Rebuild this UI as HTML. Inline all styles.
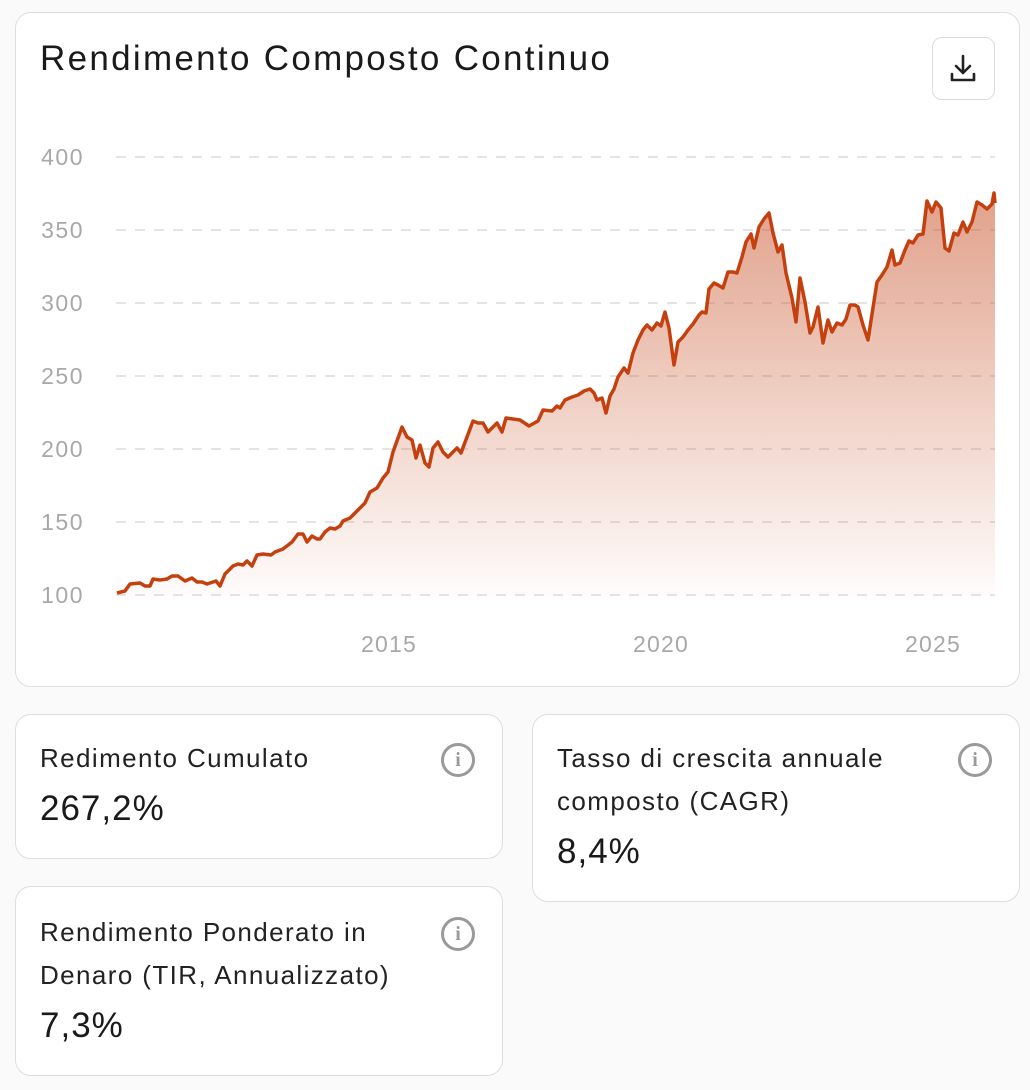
<!DOCTYPE html>
<html><head><meta charset="utf-8"><style>
body{margin:0;width:1030px;height:1090px;background:#fafafa;font-family:"Liberation Sans",sans-serif;position:relative;overflow:hidden}
.card{position:absolute;background:#fff;border:1.5px solid #dedede;border-radius:16px;box-sizing:border-box}
.lbl{position:absolute;left:24px;font-size:26px;color:#222;line-height:43px;letter-spacing:1.4px;white-space:nowrap}
.val{position:absolute;left:24px;font-size:35px;color:#1a1a1a;letter-spacing:1px}
.info{position:absolute;width:28px;height:28px;border:3px solid #9a9a9a;border-radius:50%;color:#9a9a9a;font:bold 20px "Liberation Serif",serif;text-align:center;line-height:28px}
</style></head><body>
<div class="card" style="left:15px;top:12px;width:1005px;height:675px">
<div style="position:absolute;left:24px;top:26px;font-size:35px;color:#1a1a1a;letter-spacing:2.3px;white-space:nowrap">Rendimento Composto Continuo</div>
<div style="position:absolute;left:916px;top:24px;width:63px;height:63px;border:1.5px solid #dcdcdc;border-radius:10px;box-sizing:border-box">
<svg width="60" height="60" viewBox="0 0 60 60"><path d="M30 18v17M23 28l7 7 7-7M19 36v6h22v-6" fill="none" stroke="#222" stroke-width="2.6" stroke-linecap="round" stroke-linejoin="round"/></svg></div>
</div>
<svg style="position:absolute;left:0;top:0" width="1030" height="690">
<defs><linearGradient id="g" gradientUnits="userSpaceOnUse" x1="0" y1="190" x2="0" y2="595"><stop offset="0" stop-color="#c8532a" stop-opacity="0.55"/><stop offset="1" stop-color="#c8532a" stop-opacity="0.02"/></linearGradient></defs>
<g stroke="#dcdcdc" stroke-width="1.5" stroke-dasharray="10,9">
<line x1="116" y1="157" x2="995" y2="157"/><line x1="116" y1="230" x2="995" y2="230"/><line x1="116" y1="303" x2="995" y2="303"/><line x1="116" y1="376" x2="995" y2="376"/><line x1="116" y1="449" x2="995" y2="449"/><line x1="116" y1="522" x2="995" y2="522"/><line x1="116" y1="595" x2="995" y2="595"/></g>
<g font-family="Liberation Sans" font-size="23" fill="#a8a8a8" text-anchor="end" letter-spacing="1.5">
<text x="84" y="165">400</text><text x="84" y="238">350</text><text x="84" y="311">300</text><text x="84" y="384">250</text><text x="84" y="457">200</text><text x="84" y="530">150</text><text x="84" y="603">100</text></g>
<g font-family="Liberation Sans" font-size="23" fill="#a8a8a8" text-anchor="middle" letter-spacing="1.2"><text x="389" y="652">2015</text><text x="661" y="652">2020</text><text x="933" y="652">2025</text></g>
<path fill="url(#g)" d="M117 593L125 591L130 584L140 583L145 586L150 586L153 579L160 580L167 579L172 576L178 576L185 581L192 578L197 582L202 582L207 584L216 581L220 586L225 574L233 566L238 564L243 565L247 561L252 566L257 555L263 554L271 555L275 552L283 549L292 542L298 534L303 534L307 542L312 536L317 539L320 539L325 532L330 528L335 529L340 526L343 521L350 518L357 511L365 503L370 492L377 488L383 478L388 472L393 452L402 427L407 437L412 440L416 458L420 445L425 463L429 467L433 448L438 442L443 452L448 457L457 448L461 453L473 421L478 423L483 423L488 432L497 423L502 432L506 418L513 419L520 420L529 426L538 421L543 410L552 411L557 406L560 408L565 400L572 397L578 395L584 391L590 389L594 393L597 400L602 398L606 413L610 396L614 389L618 377L624 368L628 373L633 353L638 340L643 330L647 325L652 330L657 323L661 326L665 312L669 328L674 365L678 342L683 337L688 330L693 324L699 315L702 312L706 313L709 289L714 283L718 285L723 288L728 272L733 272L737 273L742 257L746 242L751 234L754 248L759 227L764 219L769 213L773 233L778 252L782 245L786 273L792 298L796 322L800 278L805 302L810 333L813 327L818 307L823 343L828 320L832 332L837 323L842 325L846 319L850 305L855 305L858 307L863 325L868 340L877 282L882 275L887 267L892 250L895 265L900 263L905 250L909 241L913 243L918 235L923 234L927 201L932 212L936 202L941 208L945 248L949 251L954 233L958 235L963 222L967 232L972 222L977 202L982 205L987 209L992 204L994 193L995 203L995 595L117 595Z"/>
<path fill="none" stroke="#c4410f" stroke-width="3.5" stroke-linejoin="round" d="M117 593L125 591L130 584L140 583L145 586L150 586L153 579L160 580L167 579L172 576L178 576L185 581L192 578L197 582L202 582L207 584L216 581L220 586L225 574L233 566L238 564L243 565L247 561L252 566L257 555L263 554L271 555L275 552L283 549L292 542L298 534L303 534L307 542L312 536L317 539L320 539L325 532L330 528L335 529L340 526L343 521L350 518L357 511L365 503L370 492L377 488L383 478L388 472L393 452L402 427L407 437L412 440L416 458L420 445L425 463L429 467L433 448L438 442L443 452L448 457L457 448L461 453L473 421L478 423L483 423L488 432L497 423L502 432L506 418L513 419L520 420L529 426L538 421L543 410L552 411L557 406L560 408L565 400L572 397L578 395L584 391L590 389L594 393L597 400L602 398L606 413L610 396L614 389L618 377L624 368L628 373L633 353L638 340L643 330L647 325L652 330L657 323L661 326L665 312L669 328L674 365L678 342L683 337L688 330L693 324L699 315L702 312L706 313L709 289L714 283L718 285L723 288L728 272L733 272L737 273L742 257L746 242L751 234L754 248L759 227L764 219L769 213L773 233L778 252L782 245L786 273L792 298L796 322L800 278L805 302L810 333L813 327L818 307L823 343L828 320L832 332L837 323L842 325L846 319L850 305L855 305L858 307L863 325L868 340L877 282L882 275L887 267L892 250L895 265L900 263L905 250L909 241L913 243L918 235L923 234L927 201L932 212L936 202L941 208L945 248L949 251L954 233L958 235L963 222L967 232L972 222L977 202L982 205L987 209L992 204L994 193L995 203"/>
</svg>
<div class="card" style="left:15px;top:714px;width:488px;height:145px">
<div class="lbl" style="top:22px">Redimento Cumulato</div><div class="val" style="top:74px">267,2%</div><div class="info" style="left:425px;top:28px">i</div></div>
<div class="card" style="left:532px;top:714px;width:488px;height:188px">
<div class="lbl" style="top:22px">Tasso di crescita annuale<br>composto (CAGR)</div><div class="val" style="top:117px">8,4%</div><div class="info" style="left:425px;top:28px">i</div></div>
<div class="card" style="left:15px;top:886px;width:488px;height:190px">
<div class="lbl" style="top:24px">Rendimento Ponderato in<br>Denaro (TIR, Annualizzato)</div><div class="val" style="top:119px">7,3%</div><div class="info" style="left:425px;top:30px">i</div></div>
</body></html>
